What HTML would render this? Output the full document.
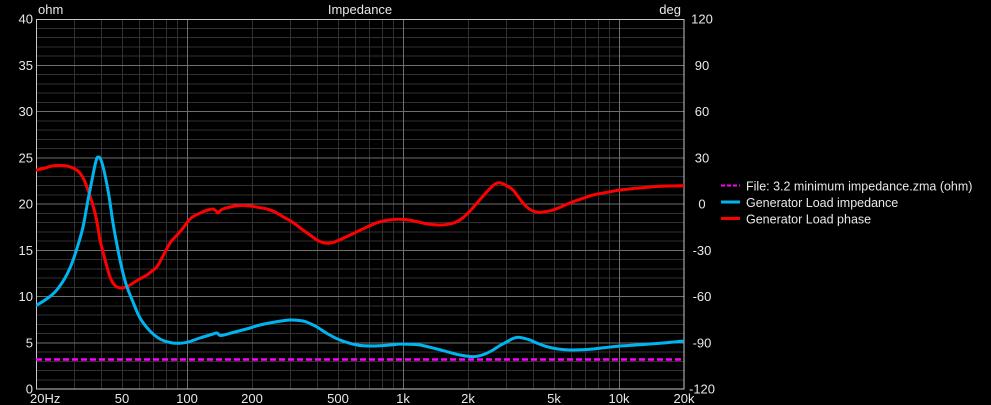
<!DOCTYPE html>
<html><head><meta charset="utf-8"><style>
html,body{margin:0;padding:0;background:#000;}
svg{display:block;}
text{font-family:"Liberation Sans",sans-serif;font-size:13px;fill:#e8e8e8;}
</style></head><body>
<svg id="chart" width="991" height="405" viewBox="0 0 991 405" xmlns="http://www.w3.org/2000/svg">
<rect x="0" y="0" width="991" height="405" fill="#000"/>
<defs><clipPath id="pc"><rect x="36" y="19" width="648" height="370"/></clipPath></defs>
<g stroke="#303030" stroke-width="1" shape-rendering="crispEdges">
<path d="M74.5 19V389M101.5 19V389M122.5 19V389M139.5 19V389M153.5 19V389M166.5 19V389M177.5 19V389
M252.5 19V389M290.5 19V389M317.5 19V389M338.5 19V389M355.5 19V389M369.5 19V389M382.5 19V389M393.5 19V389
M468.5 19V389M506.5 19V389M533.5 19V389M554.5 19V389M571.5 19V389M585.5 19V389M598.5 19V389M609.5 19V389"/>
<path d="M36 379.75H684M36 370.5H684M36 361.25H684M36 352H684M36 333.5H684M36 324.25H684M36 315H684M36 305.75H684
M36 287.25H684M36 278H684M36 268.75H684M36 259.5H684M36 241H684M36 231.75H684M36 222.5H684M36 213.25H684
M36 194.75H684M36 185.5H684M36 176.25H684M36 167H684M36 148.5H684M36 139.25H684M36 130H684M36 120.75H684
M36 102.25H684M36 93H684M36 83.75H684M36 74.5H684M36 56H684M36 46.75H684M36 37.5H684M36 28.25H684"/>
</g>
<g stroke="#6e6e6e" stroke-width="1" shape-rendering="crispEdges">
<path d="M187.5 19V389M403.5 19V389M619.5 19V389"/>
<path d="M36 342.75H684M36 296.5H684M36 250.25H684M36 204H684M36 157.75H684M36 111.5H684M36 65.25H684"/>
</g>
<rect x="36.5" y="19.5" width="647.5" height="369.5" fill="none" stroke="#c8c8c8" stroke-width="1" shape-rendering="crispEdges"/>
<g clip-path="url(#pc)" fill="none" stroke-linejoin="round" stroke-linecap="round">
<line x1="36" y1="359.5" x2="684" y2="359.5" stroke="#ff00ff" stroke-width="2.5" stroke-dasharray="6 3" stroke-linecap="butt"/>
<polyline class="sm" stroke="#ff0000" stroke-width="3" points="37,170 45,168 52,166 60,165.5 67,166 73,168 78,171 82,176 85,182 88,190 91,199 95,213 98,228 100,240 103,252 107,267 110,277 113,283 117,287 121.7,288 126,287 130,285 138,280 147,275 152,271 157,266.7 163,256 170,243 177,235 183,228 190,219 196,215 203,211.7 208,210 213,209 216,211 218,213 220,211 223,209 230,207 237,205.7 243,205.5 250,206 258,207.3 267,209 275,212 283,216.7 293,222.5 303,230 310,235 317,240 322,242.3 327,243.3 332,242.7 337,241 347,236.5 357,231.7 367,227 377,222.7 387,220.3 397,219.3 407,219.8 417,221.7 425,223.5 432,224.5 440,225 448,224.3 455,222.5 462,218.5 470,211 477,203 484,195 490,188.5 495,184 499,182.7 503,183.7 508,186.5 513,190 518,196.5 523,203 528,208 533,211 538,212.3 545,211.7 553,210 563,206 573,201.7 583,198.3 593,195 606,192.5 620,190 636,188.3 653,186.7 668,186 684,185.7"/>
<polyline class="sm" stroke="#00b4f0" stroke-width="3" points="37,305 45,300 55,292 65,278 72,263 78,245 83,227 88,200 92,180 95,165 97,158 98.5,157 100,158 102,163 105,175 109,196 113,223 117,245 120,260 124,277 127,287 133,302 140,318 150,331 160,339 170,342.5 177,343.3 187,342.3 200,338 213,334 217,333 221,335.5 233,332.5 250,328 260,325 275,322 290,320 303,321 310,323.5 317,327 328,334 340,340 357,345 373,346 390,345 400,344 410,344.3 420,345 435,348.5 447,351.7 460,355 470,356.5 477,356.3 485,354 493,350 500,345.5 507,341.7 513,338.5 518,337.3 524,338.3 530,340 538,343.5 547,346.7 558,349 570,350 582,349.8 593,349 606,347.5 620,346 640,344.7 660,343.3 684,341"/>
</g>
<g text-anchor="end">
<text x="33" y="23.5">40</text>
<text x="33" y="69.75">35</text>
<text x="33" y="116">30</text>
<text x="33" y="162.25">25</text>
<text x="33" y="208.5">20</text>
<text x="33" y="254.75">15</text>
<text x="33" y="301">10</text>
<text x="33" y="347.25">5</text>
<text x="33" y="393.5">0</text>
</g>
<g text-anchor="middle">
<text x="702" y="23.5">120</text>
<text x="702" y="69.75">90</text>
<text x="702" y="116">60</text>
<text x="702" y="162.25">30</text>
<text x="702" y="208.5">0</text>
<text x="702" y="254.75">-30</text>
<text x="702" y="301">-60</text>
<text x="702" y="347.25">-90</text>
<text x="702" y="393.5">-120</text>
</g>
<text x="30" y="403">20Hz</text>
<g text-anchor="middle">
<text x="122" y="403">50</text>
<text x="187" y="403">100</text>
<text x="252" y="403">200</text>
<text x="338" y="403">500</text>
<text x="403" y="403">1k</text>
<text x="468" y="403">2k</text>
<text x="554" y="403">5k</text>
<text x="619" y="403">10k</text>
<text x="684" y="403">20k</text>
<text x="360" y="14">Impedance</text>
</g>
<text x="38" y="14">ohm</text>
<text x="681" y="14" text-anchor="end">deg</text>
<line x1="721" y1="185.5" x2="740" y2="185.5" stroke="#ff00ff" stroke-width="2" stroke-dasharray="4 2"/>
<line x1="721" y1="202" x2="740" y2="202" stroke="#00b4f0" stroke-width="3"/>
<line x1="721" y1="218.5" x2="740" y2="218.5" stroke="#ff0000" stroke-width="3"/>
<text x="746" y="190.5" style="font-size:12.5px">File: 3.2 minimum impedance.zma (ohm)</text>
<text x="746" y="207" style="font-size:12.5px">Generator Load impedance</text>
<text x="746" y="223.5" style="font-size:12.5px">Generator Load phase</text>
</svg>
<script>
(function(){
  var NS="http://www.w3.org/2000/svg";
  var pls=document.querySelectorAll("polyline.sm");
  for(var i=0;i<pls.length;i++){
    var pl=pls[i];
    var raw=pl.getAttribute("points").trim().split(/\s+/).map(function(s){var a=s.split(",");return [parseFloat(a[0]),parseFloat(a[1])];});
    var d="M"+raw[0][0]+" "+raw[0][1];
    for(var j=0;j<raw.length-1;j++){
      var p0=raw[j>0?j-1:j],p1=raw[j],p2=raw[j+1],p3=raw[j+2<raw.length?j+2:j+1];
      var t=1/6;
      var c1x=p1[0]+(p2[0]-p0[0])*t,c1y=p1[1]+(p2[1]-p0[1])*t;
      var c2x=p2[0]-(p3[0]-p1[0])*t,c2y=p2[1]-(p3[1]-p1[1])*t;
      d+=" C"+c1x.toFixed(2)+" "+c1y.toFixed(2)+" "+c2x.toFixed(2)+" "+c2y.toFixed(2)+" "+p2[0]+" "+p2[1];
    }
    var p=document.createElementNS(NS,"path");
    p.setAttribute("d",d);
    p.setAttribute("stroke",pl.getAttribute("stroke"));
    p.setAttribute("stroke-width",pl.getAttribute("stroke-width"));
    p.setAttribute("fill","none");
    pl.parentNode.replaceChild(p,pl);
  }
})();
</script>
</body></html>
